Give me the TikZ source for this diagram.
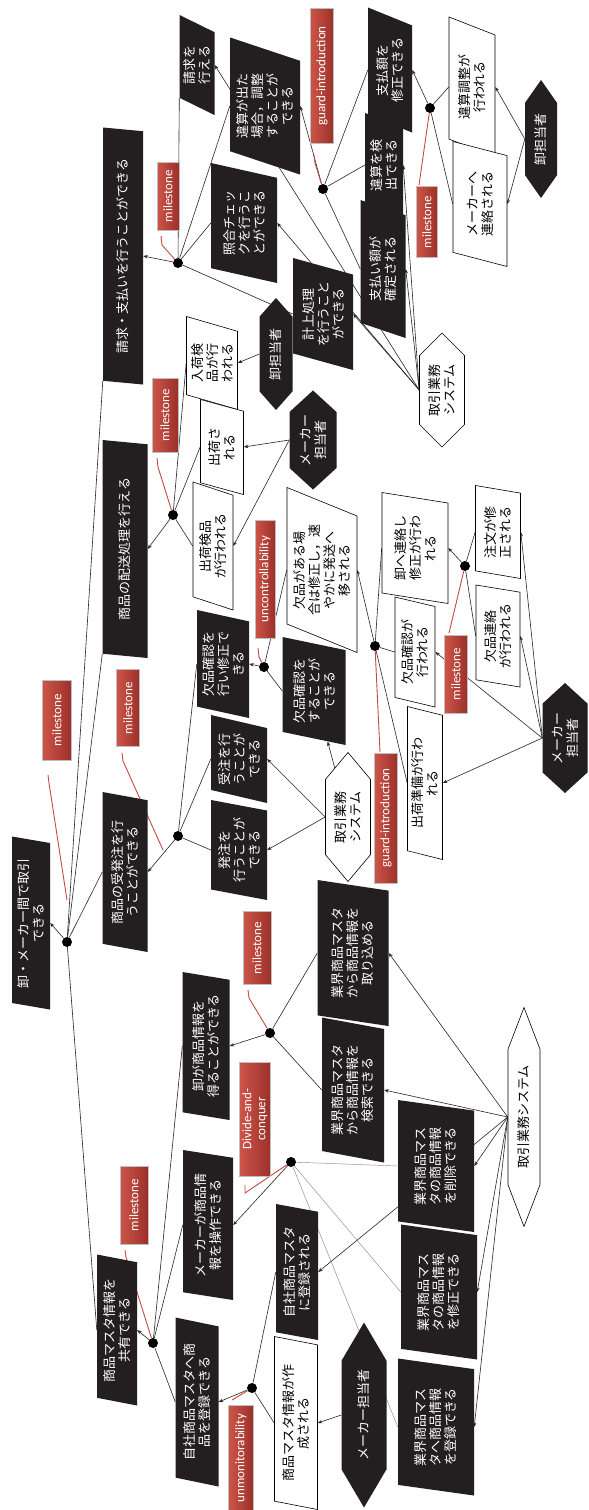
\documentclass[tikz,border=0pt]{standalone}
\usepackage{fontspec}
\setmainfont{Noto Sans CJK JP}
\newfontfamily\tagfont{Carlito}
\usetikzlibrary{shapes.geometric,shapes.symbols,arrows.meta}
\pgfdeclarelayer{bg}
\pgfsetlayers{bg,main}
\definecolor{gblack}{RGB}{35,31,32}
\definecolor{tagl}{RGB}{205,85,72}
\definecolor{tagd}{RGB}{155,48,42}
\definecolor{redln}{RGB}{195,75,65}
\tikzset{
  sz/.style 2 args={minimum height=#1, minimum width=#2},
  sl/.style 2 args={trapezium left angle=#1, trapezium right angle=#2},
  goal/.style={trapezium, trapezium stretches body=true, rotate=90, fill=gblack, text=white, align=center, inner sep=2pt, font=\fontsize{13}{15}\selectfont},
  req/.style={goal, fill=white, draw=black, text=black, line width=0.6pt},
  agent/.style={signal, signal to=east and west, signal pointer angle=80, rotate=90, fill=gblack, text=white, align=center, inner sep=2pt, font=\fontsize{13}{15}\selectfont},
  sysag/.style={agent, fill=white, draw=black, text=black, line width=0.6pt},
  kdot/.style={circle, fill=black, inner sep=0pt, minimum size=10pt},
  tag/.style={rectangle, rotate=90, left color=tagl, right color=tagd, draw=black!25, line width=0.4pt, text=white, inner sep=1pt, align=center, font=\tagfont\fontsize{13}{14}\selectfont},
  ln/.style={draw=black!85, line width=0.6pt},
  arr/.style={ln, -{Stealth[length=4.5pt,width=3.5pt]}},
  faint/.style={draw=black!45, line width=0.45pt},
  redline/.style={draw=redln, line width=0.9pt},
}
\begin{document}
\begin{tikzpicture}[x=1pt,y=-1pt]
\useasboundingbox (0,0) rectangle (589,1510);
\begin{pgfonlayer}{bg}
\fill[white] (0,0) rectangle (589,1510);
\end{pgfonlayer}
% ---- top right cluster
\node[goal, sl={61}{119}, sz={35}{100}] (gBill) at (197,65) {請求を\\行える};
\node[goal, sl={69}{111}, sz={70}{137}] (gAdj) at (265,106) {違算が出た\\場合，調整\\することが\\できる};
\node[tag, sz={23}{135}] (tGuard1) at (322,76) {guard-introduction};
\node[goal, sl={60}{120}, sz={44}{125}] (gPayFix) at (390,70) {支払額を\\修正できる};
\node[tag, sz={21}{71}] (tMs3) at (427,222) {milestone};
\node[kdot] (dPay) at (430,108) {};
\node[req, sl={60}{120}, sz={46}{140}] (wAdj) at (472,87) {違算調整が\\行われる};
\node[agent, signal pointer angle=70, sz={32}{118}] (aOroshi1) at (541,139) {卸担当者};
\node[req, sl={65}{115}, sz={54}{125}] (wMakerContact) at (480,204) {メーカーへ\\連絡される};
\node[kdot] (dGuard1) at (323,189) {};
\node[goal, sl={65}{115}, sz={38}{104}] (gDetect) at (384,165) {違算を検\\出できる};
\node[goal, sl={64}{116}, sz={45}{138}] (gPayConfirm) at (383,269) {支払い額が\\確定される};
\node[goal, sl={72}{108}, sz={66}{120}] (gCheck) at (244,223) {照合チェッ\\クを行うこ\\とができる};
\node[goal, sl={70}{110}, sz={60}{112}] (gKeijo) at (323,314) {計上処理\\を行うこと\\ができる};
\node[sysag, signal pointer angle=90, sz={45}{114}] (sys1) at (442,390) {取引業務\\システム};
\node[kdot] (dBill) at (178,263) {};
\node[tag, sz={22}{68}] (tMs1) at (168,196) {milestone};
\node[goal, sl={77}{103}, sz={40}{257}] (gBillPay) at (123,256) {請求・支払いを行うことができる};
% ---- middle top
\node[agent, signal pointer angle=83, sz={33}{112}] (aOroshi2) at (276,354) {卸担当者};
\node[req, sl={72}{108}, sz={51}{93}] (wNyuka) at (212,363) {入荷検\\品が行\\われる};
\node[tag, sz={26}{74}] (tMs2) at (165,415) {milestone};
\node[req, sl={69}{111}, sz={43}{95}] (wShukka) at (222,447) {出荷さ\\れる};
\node[agent, signal pointer angle=95, sz={47}{95}] (aMaker1) at (313,440) {メーカー\\担当者};
\node[kdot] (dHaiso) at (173,515) {};
\node[goal, sl={75}{105}, sz={45}{218}] (gHaiso) at (125,549) {商品の配送処理を行える};
\node[req, sl={67}{113}, sz={40}{128}] (wShukkaKenpin) at (213,546) {出荷検品\\が行われる};
\node[req, sl={65}{115}, sz={70}{165}] (wKepinIf) at (322,570) {欠品がある場\\合は修正し，速\\やかに発送へ\\移される};
\node[tag, sz={20}{118}] (tUnc) at (265,579) {uncontrollability};
\node[kdot] (dKepin) at (264,667) {};
\node[goal, sl={76}{104}, sz={52}{108}] (gKepinFix) at (223,664) {欠品確認を\\行い修正で\\きる};
\node[goal, sl={74}{106}, sz={63}{108}] (gKepinCheck) at (314,691) {欠品確認を\\することが\\できる};
\node[goal, sl={74}{106}, sz={56}{88}] (gJuchu) at (239,759) {受注を行\\うことが\\できる};
\node[goal, sl={77}{103}, sz={56}{100}] (gHatchu) at (239,850) {発注を\\行うことが\\できる};
\node[sysag, signal pointer angle=80, sz={45}{129}] (sys2) at (348,817) {取引業務\\システム};
\node[tag, sz={23}{130}] (tGuard2) at (386,818) {guard-introduction};
\node[req, sl={74}{106}, sz={35}{153}] (wShukkaJunbi) at (425,783) {出荷準備が行わ\\れる};
\node[agent, signal pointer angle=95, sz={45}{110}] (aMaker2) at (565,738) {メーカー\\担当者};
\node[kdot] (dGuard2) at (375,646) {};
\node[req, sl={73}{107}, sz={40}{110}] (wKepinKakunin) at (415,652) {欠品確認が\\行われる};
\node[req, sl={77}{103}, sz={66}{111}] (wOroshiRenraku) at (415,548) {卸へ連絡し\\修正が行わ\\れる};
\node[kdot] (dMs6) at (465,566) {};
\node[tag, sz={23}{78}] (tMs6) at (456,674) {milestone};
\node[req, sl={76}{104}, sz={45}{93}] (wChumon) at (498,532) {注文が修\\正される};
\node[req, sl={77}{103}, sz={44}{102}] (wKepinRenraku) at (498,636) {欠品連絡\\が行われる};
% ---- left part
\node[tag, sz={29}{80}] (tMs4) at (57,720) {milestone};
\node[tag, sz={23}{77}] (tMs5) at (128,708) {milestone};
\node[goal, sl={78}{102}, sz={38}{173}] (gRoot) at (31,923) {卸・メーカー間で取引\\できる};
\node[kdot] (dRoot) at (67,942) {};
\node[goal, sl={75}{105}, sz={45}{160}] (gJuhatchu) at (125,872) {商品の受発注を行\\うことができる};
\node[kdot] (dJuhatchu) at (178,836) {};
\node[tag, sz={28}{73}] (tMs7) at (257,948) {milestone};
\node[kdot] (dOroshiInfo) at (270,1033) {};
\node[goal, sl={76}{104}, sz={47}{148}] (gOroshiInfo) at (206,1046) {卸が商品情報を\\得ることができる};
\node[tag, sz={31}{114}] (tDiv) at (255,1119) {Divide-and-\\conquer};
\node[kdot] (dDiv) at (291,1162) {};
\node[goal, sl={76}{104}, sz={50}{150}] (gMakerOp) at (208,1225) {メーカーが商品情\\報を操作できる};
\node[tag, sz={28}{78}] (tMs8) at (134,1205) {milestone};
\node[kdot] (dShare) at (153,1343) {};
\node[goal, sl={76}{104}, sz={40}{151}] (gShare) at (117,1330) {商品マスタ情報を\\共有できる};
\node[goal, sl={74}{106}, sz={43}{169}] (gJishaTouroku) at (197,1402) {自社商品マスタへ商\\品を登録できる};
\node[kdot] (dUnmon) at (252,1388) {};
\node[tag, sz={25}{105}] (tUnmon) at (241,1458) {unmonitorability};
\node[goal, sl={76}{104}, sz={42}{136}] (gJishaReg) at (297,1272) {自社商品マスタ\\に登録される};
\node[req, sl={75}{105}, sz={43}{173}] (wMasterCreated) at (296,1423) {商品マスタ情報が作\\成される};
\node[agent, signal pointer angle=61, sz={45}{185}] (aMaker3) at (364,1415) {メーカー担当者};
\node[goal, sl={77}{103}, sz={76}{137}] (gMasterReg) at (436,1427) {業界商品マス\\タへ商品情報\\を登録できる};
\node[goal, sl={77}{103}, sz={76}{135}] (gMasterMod) at (439,1292) {業界商品マス\\タの商品情報\\を修正できる};
\node[goal, sl={77}{103}, sz={76}{132}] (gMasterDel) at (436,1166) {業界商品マス\\タの商品情報\\を削除できる};
\node[goal, sl={76}{104}, sz={62}{145}] (gMasterSearch) at (353,1090) {業界商品マスタ\\から商品情報を\\検索できる};
\node[goal, sl={77}{103}, sz={71}{146}] (gMasterImport) at (353,953) {業界商品マスタ\\から商品情報を\\取り込める};
\node[sysag, signal pointer angle=42, sz={32}{219}] (sys3) at (524,1117) {取引業務システム};
% ---- red callout points
\coordinate (r1a) at (161,236); \coordinate (r1b) at (162,245);
\coordinate (r2a) at (157,458); \coordinate (r2b) at (158,467);
\coordinate (r3a) at (419,185);
\coordinate (rg1a) at (314,155); \coordinate (rg1b) at (315,163);
\coordinate (r4a) at (48,775); \coordinate (r4b) at (49,783); \coordinate (r4c) at (67,900);
\coordinate (r5a) at (122,753); \coordinate (r5b) at (123,761); \coordinate (r5c) at (163,850);
\coordinate (rUa) at (258,648); \coordinate (rUb) at (259,657);
\coordinate (rg2a) at (380,752);
\coordinate (r6a) at (449,633);
\coordinate (r7a) at (248,990); \coordinate (r7b) at (249,998);
\coordinate (rDa) at (245,1193); \coordinate (rDb) at (245,1185);
\coordinate (r8a) at (125,1250); \coordinate (r8b) at (126,1257);
\coordinate (rUna) at (232,1400);
\begin{pgfonlayer}{bg}
% root
\draw[arr] (dRoot) -- (gRoot.south);
\draw[ln] (dRoot) -- (gJuhatchu.north);
\draw[ln] (dRoot) -- (gHaiso.top left corner);
\draw[ln] (dRoot) -- (gBillPay.top left corner);
\draw[ln] (dRoot) -- (gShare.north);
% juhatchu
\draw[arr] (dJuhatchu) -- (gJuhatchu.south);
\draw[ln] (dJuhatchu) -- (gHatchu.north);
\draw[ln] (dJuhatchu) -- (gJuchu.north);
\draw[ln] (dJuhatchu) -- (gKepinFix.north);
% kepin
\draw[arr] (dKepin) -- (gKepinFix.south);
\draw[ln] (dKepin) -- (wKepinIf.north);
\draw[ln] (dKepin) -- (gKepinCheck.north);
\draw[arr] (dGuard2) -- (wKepinIf.south);
\draw[ln] (dGuard2) -- (wOroshiRenraku.north);
\draw[ln] (dGuard2) -- (wKepinKakunin.north);
\draw[ln] (dGuard2) -- (wShukkaJunbi.north);
\draw[arr] (dMs6) -- (wOroshiRenraku.south);
\draw[ln] (dMs6) -- (wChumon.north);
\draw[ln] (dMs6) -- (wKepinRenraku.north);
\draw[arr] (aMaker2.north) -- (wChumon.south);
\draw[arr] (aMaker2.north) -- (wKepinRenraku.south);
\draw[arr] (aMaker2.north) -- (wKepinKakunin.south);
\draw[arr] (aMaker2.north) -- (wShukkaJunbi.south);
\draw[arr] (sys2.north) -- (gJuchu.south);
\draw[arr] (sys2.north) -- (gHatchu.south);
\draw[arr] (sys2) -- (gKepinCheck);
% haiso
\draw[arr] (dHaiso) -- (gHaiso.south);
\draw[ln] (dHaiso) -- (wNyuka.north);
\draw[ln] (dHaiso) -- (wShukka.north);
\draw[ln] (dHaiso) -- (wShukkaKenpin.north);
\draw[arr] (aMaker1.north) -- (wShukka.south);
\draw[arr] (aMaker1.north) -- (wShukkaKenpin.south);
\draw[arr] (aOroshi2.north) -- (wNyuka.south);
% bill
\draw[arr] (dBill) -- (gBillPay.south);
\draw[ln] (dBill) -- (gBill.top left corner);
\draw[ln] (dBill) -- (gAdj.north);
\draw[ln] (dBill) -- (gCheck.north);
\draw[ln] (dBill) -- (gKeijo.north);
\draw[arr] (dGuard1) -- (gAdj.south);
\draw[ln] (dGuard1) -- (gPayFix.north);
\draw[ln] (dGuard1) -- (gDetect.north);
\draw[ln] (dGuard1) -- (gPayConfirm.north);
\draw[arr] (dPay) -- (gPayFix.south);
\draw[ln] (dPay) -- (wAdj.north);
\draw[ln] (dPay) -- (wMakerContact.north);
\draw[arr] (aOroshi1.north) -- (wAdj.south);
\draw[arr] (aOroshi1.north) -- (wMakerContact.south);
\draw[arr] (sys1.north) -- (gBill.south);
\draw[arr] (sys1.north) -- (gCheck.south);
\draw[arr] (sys1.north) -- (gKeijo.south);
\draw[arr] (sys1.north) -- (gDetect.south);
\draw[arr] (sys1.north) -- (gPayConfirm.south);
% master
\draw[arr] (dOroshiInfo) -- (gOroshiInfo.south);
\draw[ln] (dOroshiInfo) -- (gMasterImport.north);
\draw[ln] (dOroshiInfo) -- (gMasterSearch.north);
\draw[arr] (dDiv) -- (gMakerOp.south);
\draw[faint] (dDiv) -- (gMasterDel.north);
\draw[faint] (dDiv) -- (gMasterMod.north);
\draw[faint] (dDiv) -- (gMasterReg.north);
\draw[arr] (dShare) -- (gShare.south);
\draw[ln] (dShare) -- (gOroshiInfo.north);
\draw[ln] (dShare) -- (gMakerOp.north);
\draw[ln] (dShare) -- (gJishaTouroku.north);
\draw[arr] (dUnmon) -- (gJishaTouroku.south);
\draw[ln] (dUnmon) -- (gJishaReg.north);
\draw[ln] (dUnmon) -- (wMasterCreated.north);
\draw[arr] (aMaker3.north) -- (wMasterCreated.south);
\draw[arr] (sys3.north) -- (gMasterImport.south);
\draw[arr] (sys3.north) -- (gMasterSearch.south);
\draw[arr] (sys3.north) -- (gMasterDel.south);
\draw[arr] (sys3.north) -- (gMasterMod.south);
\draw[arr] (sys3.north) -- (gMasterReg.south);
\draw[arr] (sys3.north) -- (gJishaReg.south);
% red callouts
\draw[redline] (r1a) -- (r1b) -- (dBill);
\draw[redline] (r2a) -- (r2b) -- (dHaiso);
\draw[redline] (dPay) -- (r3a);
\draw[redline] (rg1a) -- (rg1b) -- (dGuard1);
\draw[redline] (r4a) -- (r4b) -- (r4c);
\draw[redline] (r5a) -- (r5b) -- (r5c);
\draw[redline] (rUa) -- (rUb) -- (dKepin);
\draw[redline] (dGuard2) -- (rg2a);
\draw[redline] (dMs6) -- (r6a);
\draw[redline] (r7a) -- (r7b) -- (dOroshiInfo);
\draw[redline] (dDiv) -- (rDa) -- (rDb);
\draw[redline] (r8a) -- (r8b) -- (dShare);
\draw[redline] (rUna) -- (dUnmon);
\end{pgfonlayer}
\end{tikzpicture}
\end{document}
